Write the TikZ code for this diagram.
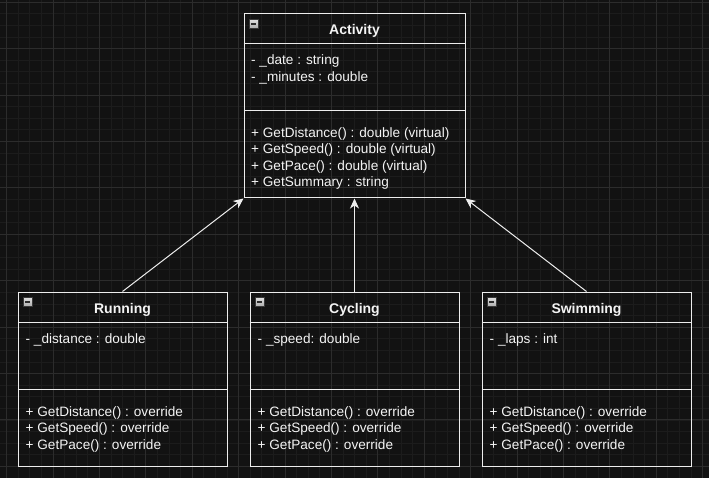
\documentclass[tikz,border=0pt]{standalone}
\usepackage{fontspec}
\setmainfont{Liberation Sans}
\usetikzlibrary{arrows.meta}

\definecolor{bgcol}{HTML}{121212}
\definecolor{minorcol}{HTML}{1C1C1C}
\definecolor{majorcol}{HTML}{2C2C2C}
\definecolor{linecol}{HTML}{EDEDED}
\definecolor{txtcol}{HTML}{F4F4F4}

\tikzset{
    minorline/.style={draw=minorcol, line width=0.8pt},
    majorline/.style={draw=majorcol, line width=1pt},
    classbox/.style={draw=linecol, line width=1pt, inner sep=0pt,
        minimum width=209pt, minimum height=174pt},
    sepline/.style={draw=linecol, line width=1pt},
    classname/.style={text=txtcol, anchor=base, inner sep=0pt,
        font=\bfseries\fontsize{14}{16}\selectfont},
    member/.style={text=txtcol, anchor=base west, inner sep=0pt,
        font=\fontsize{13.6}{15}\selectfont},
    collapse/.style={draw=gray!45!black, top color=gray!25, bottom color=gray!65,
        line width=0.6pt, minimum size=9pt, inner sep=0pt},
    inherit/.style={draw=linecol, line width=1pt,
        -{Stealth[length=10pt,width=9pt,inset=3pt]}}
}

\begin{document}
\begin{tikzpicture}[x=1pt,y=-1pt]
        \fill[bgcol] (0,0) rectangle (709,478);
        \useasboundingbox (0,0) rectangle (709,478);
        % grid
        \foreach \i in {0,...,60}{
            \draw[minorline] ({6.67+11.6*\i},0) -- ++(0,478);
            };
        \foreach \i in {0,...,41}{
            \draw[minorline] (0,{2.3+11.6*\i}) -- ++(709,0);
            };
        \foreach \i in {0,...,15}{
            \draw[majorline] ({6.67+46.4*\i},0) -- ++(0,478);
            };
        \foreach \i in {0,...,10}{
            \draw[majorline] (0,{2.3+46.4*\i}) -- ++(709,0);
            };
        % classes
        \node[classbox, minimum width=221pt, minimum height=184pt] (activity) at (354.5,106) {};
        \node[classbox] (running) at (122.5,379) {};
        \node[classbox] (cycling) at (354.5,379) {};
        \node[classbox] (swimming) at (586.5,379) {};
        \draw[sepline] (activity.west |- 0,44) -- (activity.east |- 0,44);
        \draw[sepline] (activity.west |- 0,111) -- (activity.east |- 0,111);
        \node[collapse] (activity-icon) at (254,24) {};
        \draw[gray!35!black, line width=1.2pt] (activity-icon.west) ++(2,0) -- ++(5,0);
        \node[classname] (activity-name) at (activity.north |- 0,34.5) {Activity};
        \node[member] (activity-a1) at (251,65) {- \_date : string};
        \node[member] (activity-a2) at (251,81.5) {- \_minutes : double};
        \node[member] (activity-m1) at (251,137.5) {+ GetDistance() : double (virtual)};
        \node[member] (activity-m2) at (251,154) {+ GetSpeed() : double (virtual)};
        \node[member] (activity-m3) at (251,170.5) {+ GetPace() : double (virtual)};
        \node[member] (activity-m4) at (251,187) {+ GetSummary : string};
        \foreach \c/\x/\cname/\attr in {running/18/Running/{- \_distance : double},
                cycling/250/Cycling/{- \_speed: double},
                swimming/482/Swimming/{- \_laps : int}}{
            \draw[sepline] (\c.west |- 0,322.5) -- (\c.east |- 0,322.5);
            \draw[sepline] (\c.west |- 0,389.3) -- (\c.east |- 0,389.3);
            \node[collapse] (\c-icon) at (\x+10,302) {};
            \draw[gray!35!black, line width=1.2pt] (\c-icon.west) ++(2,0) -- ++(5,0);
            \node[classname] (\c-name) at (\c.north |- 0,313.5) {\cname};
            \node[member] (\c-a1) at (\x+7.5,343.5) {\attr};
            \node[member] (\c-m1) at (\x+7.5,416) {+ GetDistance() : override};
            \node[member] (\c-m2) at (\x+7.5,432.5) {+ GetSpeed() : override};
            \node[member] (\c-m3) at (\x+7.5,449) {+ GetPace() : override};
            };
        % inheritance
        \draw[inherit] (running.north) -- (activity.south west);
        \draw[inherit] (cycling.north) -- (activity.south);
        \draw[inherit] (swimming.north) -- (activity.south east);
    \end{tikzpicture}
\end{document}
